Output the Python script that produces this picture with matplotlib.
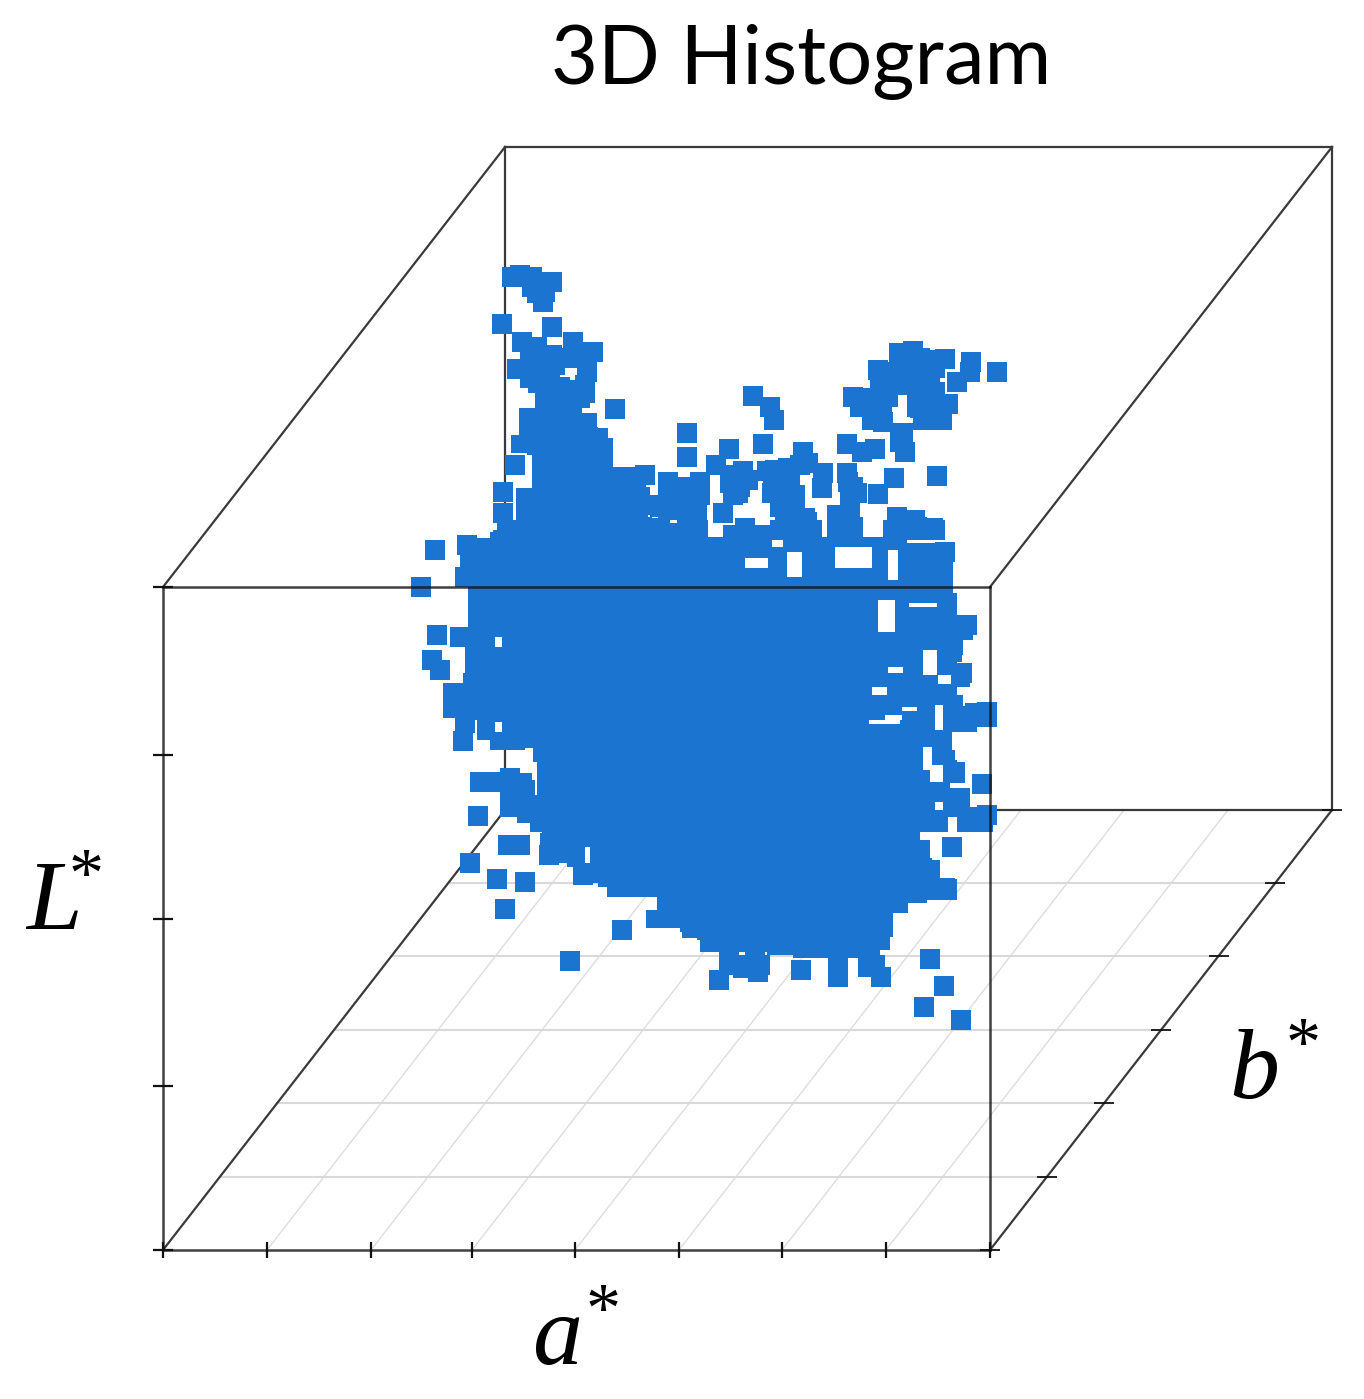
import numpy as np
from matplotlib import pyplot as plt

plt.rcParams['mathtext.fontset'] = 'custom'
plt.rcParams['mathtext.it'] = 'Liberation Serif:italic'
plt.rcParams['mathtext.rm'] = 'Liberation Serif'

# scales of the oblique box: a* runs along x, L* up, b* goes back and up
a_max = 827
l_max = 663
b_max = 440
a_ticks = [0, 104, 208, 309, 412, 516, 619, 723, 827]
l_ticks = [0, 164, 331, 495, 663]
b_ticks = [0, 73, 147, 220, 294, 367, 440]

# isolated bins, as seen on the front plane
point_a = [349, 364, 380, 389, 369, 380, 339, 389, 359, 374, 410, 430, 380, 402, 354, 424, 375, 397, 422, 452,
           834, 808, 807, 794, 736, 750, 769, 782, 715, 734, 754, 765, 690, 707, 725, 697, 709, 720, 754, 767,
           785, 769, 779, 760, 740, 737, 742, 684, 699, 712, 717, 760, 754, 745, 730,
           590, 607, 611, 524, 524, 566, 600, 774, 731, 553, 580, 604, 640, 645, 625, 684, 690, 694, 715, 660, 659,
           505, 537, 520, 497, 514, 532, 567, 575, 560, 610, 620, 609, 617, 629, 644, 634, 582, 572, 594, 527, 535,
           519, 685, 674, 690, 734, 730, 754, 770, 782, 482, 477, 473, 524, 534,
           272, 258, 304, 274, 297, 269, 277, 290, 290, 300, 302, 317, 332, 347, 359, 315, 307, 334, 362, 342, 345,
           357, 459, 386, 420, 352, 340, 340,
           407, 556, 566, 580, 595, 638, 675, 718, 705, 767, 781, 761, 798, 789, 782, 819, 804, 799, 824, 824, 807,
           505, 519, 534, 505, 527, 537, 487, 505, 567, 577, 585, 570, 612, 627, 622, 632, 622, 632, 642, 627, 637,
           685, 687, 674, 687, 677, 734, 747, 762, 772, 742, 752, 597, 570, 622, 637, 649, 617,
           727, 742, 757, 742, 727, 717, 710, 719, 755, 762, 772, 767, 757, 777, 749, 772, 762,
           357, 374, 382, 369, 389, 392, 412, 384, 367, 407, 387, 367, 382,
           342, 347, 362, 351, 587, 572, 597, 592, 675, 712]
point_l = [973, 973, 968, 968, 963, 948, 926, 923, 908, 903, 908, 898, 890, 892, 881, 878, 867, 863, 865, 841,
           878, 888, 878, 868, 897, 899, 890, 891, 880, 877, 883, 875, 853, 852, 853, 843, 830, 828, 857, 863,
           846, 845, 830, 830, 817, 808, 798, 806, 798, 801, 863, 872, 843, 870, 865,
           854, 843, 830, 817, 793, 801, 806, 774, 772, 785, 779, 779, 798, 787, 782, 777, 763, 757, 756, 777, 762,
           768, 768, 763, 743, 753, 753, 767, 757, 737, 763, 753, 757, 743, 733, 728, 723, 722, 712, 710, 728, 720,
           717, 733, 723, 723, 733, 720, 723, 722, 698, 775, 753, 770, 727, 730,
           700, 663, 705, 615, 613, 590, 580, 557, 542, 509, 527, 468, 468, 472, 467, 434, 387, 371, 368, 341, 405,
           405, 320, 395, 375, 785, 758, 737,
           289, 270, 288, 282, 278, 280, 273, 273, 283, 291, 264, 243, 230, 403, 362, 466, 625, 577, 538, 435, 430,
           760, 745, 745, 745, 740, 755, 745, 740, 775, 763, 770, 755, 780, 772, 760, 755, 745, 740, 732, 725, 785,
           768, 755, 735, 735, 720, 725, 720, 720, 720, 730, 730, 715, 715, 725, 720, 720, 720,
           878, 888, 892, 865, 865, 872, 845, 842, 865, 858, 858, 835, 842, 840, 873, 882, 885,
           975, 957, 958, 973, 895, 885, 892, 880, 892, 860, 870, 872, 860,
           468, 465, 460, 405, 285, 285, 285, 292, 285, 285]

# outline of the solid mass of bins
core_a = [372, 372, 356, 356, 348, 348, 364, 369, 369, 353, 353, 334, 330, 327, 295, 297, 292, 292, 305, 305,
          305, 302, 300, 300, 314, 314, 327, 327, 362, 370, 374, 337, 337, 352, 354, 367, 379, 377, 394, 404,
          404, 412, 412, 430, 435, 444, 494, 494, 483, 483, 517, 519, 534, 537, 557, 604, 630, 715, 717, 727,
          730, 745, 745, 764, 794, 794, 777, 777, 769, 767, 757, 785, 785, 794, 814, 830, 834, 807, 807, 787,
          802, 802, 794, 792, 789, 814, 834, 834, 802, 800, 794, 807, 807, 794, 799, 800, 810, 810, 794, 794,
          790, 790, 774, 744, 512, 514, 507, 489, 485, 485, 482, 482, 464, 450, 450, 445, 435, 434, 419, 427,
          432, 397]
core_l = [857, 842, 842, 815, 815, 797, 795, 787, 762, 758, 730, 720, 718, 712, 713, 683, 682, 663, 662, 623,
          603, 577, 553, 530, 523, 510, 510, 500, 502, 488, 455, 453, 433, 433, 427, 418, 417, 387, 387, 393,
          383, 383, 367, 367, 363, 353, 353, 340, 340, 322, 318, 312, 310, 298, 298, 295, 292, 293, 300, 313,
          337, 338, 347, 350, 354, 371, 372, 390, 392, 410, 418, 422, 433, 418, 418, 427, 443, 443, 462, 467,
          470, 488, 490, 500, 518, 523, 530, 547, 544, 555, 563, 567, 587, 588, 595, 610, 617, 635, 637, 657,
          663, 705, 707, 713, 713, 727, 732, 733, 737, 762, 765, 783, 783, 788, 812, 822, 823, 837, 842, 847,
          867, 867]

# empty bins inside the mass
gap_a = [582, 624, 672, 725, 609, 715, 746, 760, 775, 725, 709, 706, 739, 722, 772, 760, 767, 772, 332, 332, 422]
gap_w = [23, 15, 37, 10, 11, 17, 28, 14, 13, 15, 15, 31, 15, 17, 8, 9, 13, 8, 7, 7, 5]
gap_l = [682, 673, 682, 670, 703, 618, 643, 575, 566, 577, 555, 526, 539, 530, 520, 480, 468, 440, 603, 518, 387]
gap_h = [10, 25, 21, 30, 17, 32, 4, 25, 9, 6, 8, 4, 4, 5, 25, 23, 17, 8, 10, 10, 16]

blue = '#1b75d0'


def project(a, b, l):
  return a + b * 342 / b_max, l + b


def stairs(xs, ys):
  # the mass is made of square bins, so its edge only runs in steps
  sx, sy = [], []
  for i in range(len(xs)):
    sx += [xs[i], xs[(i + 1) % len(xs)]]
    sy += [ys[i], ys[i]]
  return sx, sy


fig = plt.figure(figsize=(13.64, 13.99), dpi=100)
ax = fig.add_axes([0, 0, 1, 1])
ax.set_xlim(-163, 1201)
ax.set_ylim(-149, 1250)
ax.axis('off')

# floor grid
for t in a_ticks[1:-1]:
  x, y = project(np.array([t, t]), np.array([0, b_max]), np.array([0, 0]))
  ax.plot(x, y, color='#dddddd', lw=1.0, zorder=1)
for t in b_ticks[1:-1]:
  x, y = project(np.array([0, a_max]), np.array([t, t]), np.array([0, 0]))
  ax.plot(x, y, color='#d9d9d9', lw=1.5, zorder=1)

# back of the box, behind the points
for a0, b0, l0, a1, b1, l1 in [(0, b_max, 0, 0, b_max, l_max), (0, b_max, l_max, a_max, b_max, l_max),
                               (a_max, b_max, 0, a_max, b_max, l_max), (0, b_max, 0, a_max, b_max, 0),
                               (0, 0, 0, 0, b_max, 0), (a_max, 0, 0, a_max, b_max, 0),
                               (0, 0, l_max, 0, b_max, l_max), (a_max, 0, l_max, a_max, b_max, l_max)]:
  x0, y0 = project(a0, b0, l0)
  x1, y1 = project(a1, b1, l1)
  ax.plot([x0, x1], [y0, y1], color='#3a3a3a', lw=1.6, zorder=2)

# the histogram
core_x, core_y = stairs(core_a, core_l)
ax.fill(core_x, core_y, color=blue, lw=0, zorder=3)
ax.bar(gap_a, gap_h, width=gap_w, bottom=gap_l, align='edge', color='white', lw=0, zorder=4)
ax.scatter(point_a, point_l, s=205, marker='s', color=blue, linewidths=0, zorder=5)

# front of the box, drawn over the points
for a0, l0, a1, l1 in [(0, 0, a_max, 0), (0, 0, 0, l_max), (a_max, 0, a_max, l_max), (0, l_max, a_max, l_max)]:
  ax.plot([a0, a1], [l0, l1], color='#111111', lw=1.8, alpha=0.8, zorder=6)

# ticks
ax.plot(a_ticks, [0] * len(a_ticks), '|', color='#111111', ms=12, mew=1.6, zorder=6)
ax.plot([0] * len(l_ticks), l_ticks, '_', color='#111111', ms=14, mew=1.6, zorder=6)
bx, by = project(a_max, np.array(b_ticks), 0)
ax.plot(bx, by, '_', color='#111111', ms=14, mew=1.3, zorder=6)

ax.text(638, 1166, '3D Histogram', fontsize=58.5, family='Lato', ha='center', va='baseline')

ax.text(-138, 320, r'$L\hspace{-0.2}{}^{*}$', fontsize=72, va='baseline')
ax.text(369, -115, r'$a^{*}$', fontsize=72, va='baseline')
ax.text(1066, 152, r'$b^{*}$', fontsize=72, va='baseline')

fig.savefig('out.png', dpi=100)
